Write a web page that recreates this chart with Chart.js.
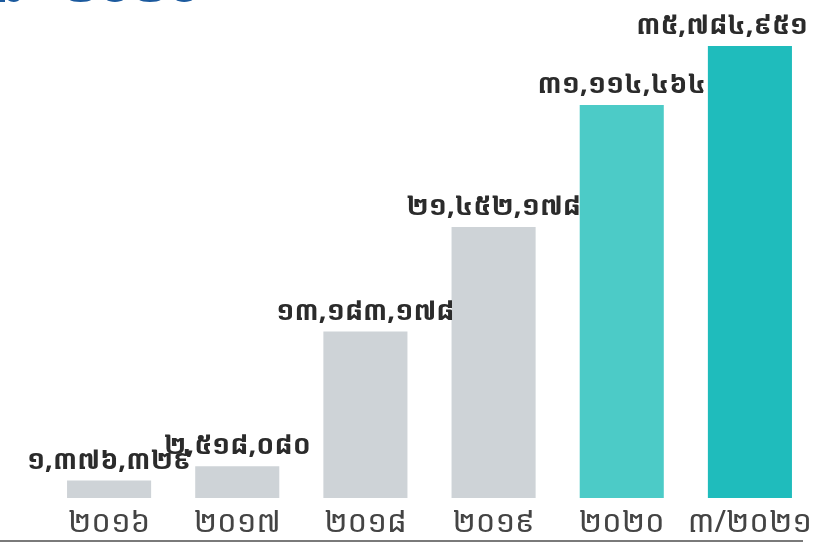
<!DOCTYPE html>
<html><head><meta charset="utf-8">
<script src="https://cdn.jsdelivr.net/npm/chart.js@4.4.0/dist/chart.umd.min.js"></script>
<style>html,body{margin:0;padding:0;background:#fff}#wrap{width:814px;height:545px}</style>
</head><body><div id="wrap"><canvas id="c" width="814" height="545"></canvas></div>
<script>
const categories = ['២០១៦','២០១៧','២០១៨','២០១៩','២០២០','៣/២០២១'];
const values = [1376329, 2518080, 13183178, 21452178, 31114464, 35784951];
const valueLabels = ['១,៣៧៦,៣២៩','២,៥១៨,០៨០','១៣,១៨៣,១៧៨','២១,៤៥២,១៧៨','៣១,១១៤,៤៦៤','៣៥,៧៨៤,៩៥១'];
const barColors = ['#ced3d7','#ced3d7','#ced3d7','#ced3d7','#4ccbc7','#1fbcbc'];
const titleText = 'ន   ២០២០';
const FONT = '"Noto Sans Khmer","Khmer OS","Khmer OS System","DejaVu Sans",sans-serif';

const deco = {
  id:'deco',
  afterDraw(chart){
    const ctx = chart.ctx, meta = chart.getDatasetMeta(0);
    ctx.save();
    ctx.fillStyle = '#2b2b2b';
    ctx.font = 'bold 27px ' + FONT;
    ctx.textAlign = 'center'; ctx.textBaseline = 'bottom';
    meta.data.forEach((bar,i)=>{
      const w = ctx.measureText(valueLabels[i]).width;
      let x = bar.x;
      if (x + w/2 > 808) x = 808 - w/2;
      if (x - w/2 < 16) x = 16 + w/2;
      ctx.fillText(valueLabels[i], x, bar.y - 6);
    });
    ctx.strokeStyle = '#7a7a7a'; ctx.lineWidth = 2;
    ctx.beginPath(); ctx.moveTo(0, 541); ctx.lineTo(803, 541); ctx.stroke();
    ctx.fillStyle = '#1c5a9e';
    ctx.font = 'bold 46px ' + FONT;
    ctx.textAlign = 'left'; ctx.textBaseline = 'alphabetic';
    ctx.fillText(titleText, -6, 2);
    ctx.restore();
  }
};

new Chart(document.getElementById('c'), {
  type:'bar',
  data:{ labels: categories, datasets:[{ data: values, backgroundColor: barColors, borderWidth:0, categoryPercentage:1, barPercentage:0.656 }]},
  options:{
    responsive:false, animation:false,
    layout:{ padding:{ left:45, right:0, top:46, bottom:9 } },
    plugins:{ legend:{display:false}, tooltip:{enabled:false} },
    scales:{
      y:{ display:false, min:0, max:35784951 },
      x:{ grid:{display:false}, border:{display:false},
          afterFit(s){ s.height = 38; },
          ticks:{ color:'#444', padding:-1, maxRotation:0, minRotation:0, autoSkip:false, font:{ size:31, family:FONT } } }
    }
  },
  plugins:[deco]
});
</script></body></html>
